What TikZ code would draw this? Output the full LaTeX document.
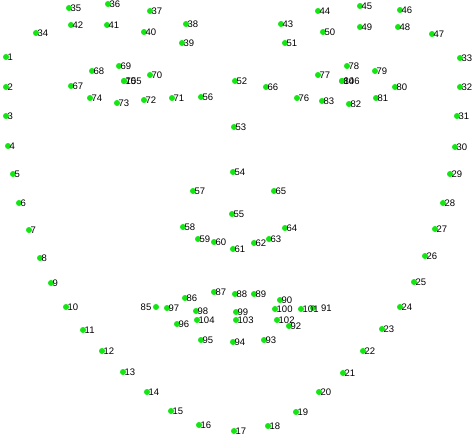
\documentclass[tikz,border=0pt]{standalone}
\usepackage{fontspec}
\setmainfont{Liberation Sans}
\definecolor{ptgreen}{RGB}{20,230,20}
\tikzset{
  pt/.style={circle,fill=ptgreen,inner sep=0pt,minimum size=6pt},
  num/.style={font=\fontsize{9.5}{10}\selectfont,inner sep=0pt,anchor=west,xshift=1.5pt}
}

\begin{document}
\begin{tikzpicture}[x=1pt,y=-1pt]
\useasboundingbox (0,0) rectangle (472,436);
% landmark points
\foreach \n/\x/\y in {1/6/57,2/6/87,3/6/116,4/8/146,5/13/174,6/19/203,7/29/230,
  8/40/258,9/51/283,10/66/307,11/83/330,12/102/351,13/123/372,14/147/392,
  15/171/411,16/199/425,17/234/431,18/268/426,19/296/412,20/319/392,
  21/343/373,22/363/351,23/382/329,24/400/307,25/414/282,26/425/256,
  27/435/229,28/443/203,29/450/174,30/455/147,31/457/116,32/460/87,33/460/58,
  34/36/33,35/69/8,36/108/4,37/150/11,38/186/24,39/182/43,40/144/32,41/107/25,42/71/25,
  43/281/24,44/318/11,45/360/6,46/400/10,47/432/34,48/398/27,49/360/27,50/323/32,51/285/43,
  52/235/81,53/234/127,54/233/172,55/232/214,56/201/97,57/193/191,58/183/227,
  59/198/239,60/214/242,61/233/249,62/254/243,63/269/239,64/285/228,65/274/191,66/266/87,
  67/71/86,68/92/71,69/119/66,70/150/75,71/172/98,72/144/100,73/117/103,74/90/98,75/124/81,
  76/297/98,77/318/75,78/347/66,79/375/71,80/395/87,81/376/98,82/349/104,83/322/101,84/342/81,
  85/156/307,86/185/298,87/214/292,88/235/294,89/254/294,90/280/300,91/313/308,
  92/289/326,93/264/340,94/233/342,95/201/340,96/177/324,97/167/308,98/196/311,
  99/236/312,100/275/309,101/301/309,102/277/320,103/236/320,104/197/320,
  105/124/81,106/342/81}
  \node[pt] (p\n) at (\x,\y) {};
% numbers
\foreach \n in {1,...,84}
  \node[num] (l\n) at (p\n.center) {\n};
\foreach \n in {86,...,90}
  \node[num] (l\n) at (p\n.center) {\n};
\foreach \n in {92,...,106}
  \node[num] (l\n) at (p\n.center) {\n};
\node[num,anchor=east,xshift=-6pt] (l85) at (p85.center) {85};
\node[num,xshift=6.5pt] (l91) at (p91.center) {91};
\end{tikzpicture}
\end{document}
